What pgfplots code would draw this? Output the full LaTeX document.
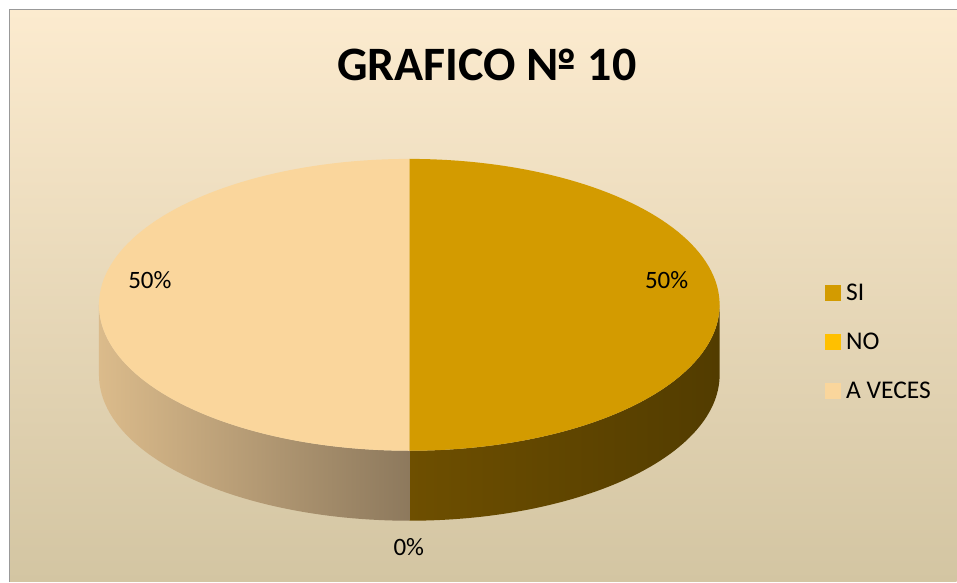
\documentclass[border=0pt]{standalone}
\usepackage{pgfplots}
\pgfplotsset{compat=1.18}
\usepackage{fontspec}
\setmainfont{Carlito}
\definecolor{cSI}{HTML}{D39B00}
\definecolor{cNO}{HTML}{FFC000}
\definecolor{cAV}{HTML}{FAD69C}
\definecolor{wSIa}{HTML}{6E4F00}
\definecolor{wSIb}{HTML}{523C00}
\definecolor{wAVa}{HTML}{DBBB8B}
\definecolor{wAVb}{HTML}{8D795D}
\definecolor{bgTop}{HTML}{FCEBCF}
\definecolor{bgMid}{HTML}{F2EAD6}
\definecolor{bgBot}{HTML}{D3C5A2}
% data (percent)
\def\vSI{50}
\def\vNO{0}
\def\vAV{50}
\def\cx{409.5}
\def\cy{277}
\def\rx{310.5}
\def\ry{146}
\def\dep{70}
\pgfmathsetmacro{\aSIs}{90}
\pgfmathsetmacro{\aSIe}{90-3.6*\vSI}
\pgfmathsetmacro{\aNOe}{\aSIe-3.6*\vNO}
\pgfmathsetmacro{\aAVe}{\aNOe-3.6*\vAV}
% wall: t in [0,1] top arc A->B, [1,2] down edge at B, [2,3] bottom arc B->A
\newcommand{\wall}[4]{%
\addplot[forget plot, draw=none, left color=#3, right color=#4, domain=0:3, samples=181, variable=\t]
  ({\cx+\rx*cos(\t<=1 ? #1+(#2-#1)*\t : (\t<=2 ? #2 : #2-(#2-#1)*(\t-2)))},
   {\cy+\ry*sin(\t<=1 ? #1+(#2-#1)*\t : (\t<=2 ? #2 : #2-(#2-#1)*(\t-2)))
     - (\t<=1 ? 0 : (\t<=2 ? \dep*(\t-1) : \dep))}) -- cycle;}
\begin{document}
\begin{tikzpicture}
\fill[white] (0,0) rectangle (957pt,582pt);
\shade[top color=bgTop, middle color=bgMid, bottom color=bgBot] (10pt,0pt) rectangle (957pt,572pt);
\draw[gray!80, line width=1pt] (10pt,0pt) -- (10pt,572pt) -- (957pt,572pt);
\begin{axis}[
  at={(0pt,0pt)}, anchor=south west,
  width=957pt, height=582pt, scale only axis,
  xmin=0, xmax=957, ymin=0, ymax=582,
  hide axis, clip=false,
  legend style={draw=none, fill=none, at={(axis cs:822,302)}, anchor=north west,
    font=\fontsize{25.5}{29}\selectfont, row sep=27pt, cells={anchor=west}},
  legend cell align=left,
]
% front walls
\wall{-90}{0}{wSIa}{wSIb}
\wall{180}{270}{wAVa}{wAVb}
% top slices
\addplot[forget plot, draw=none, fill=cSI, domain=\aSIe:\aSIs, samples=100]
  ({\cx+\rx*cos(x)},{\cy+\ry*sin(x)}) -- (axis cs:\cx,\cy) -- cycle;
\addplot[forget plot, draw=none, fill=cAV, domain=\aAVe:\aNOe, samples=100]
  ({\cx+\rx*cos(x)},{\cy+\ry*sin(x)}) -- (axis cs:\cx,\cy) -- cycle;
% labels
\node[font=\fontsize{25}{29}\selectfont] at (axis cs:150,302) {50\%};
\node[font=\fontsize{25}{29}\selectfont] at (axis cs:667,302) {50\%};
\node[font=\fontsize{25}{29}\selectfont] at (axis cs:409,35) {0\%};
\node[font=\fontsize{48}{56}\selectfont\bfseries] at (axis cs:487,517) {GRAFICO № 10};
% legend
\addlegendimage{legend image code/.code={\fill[cSI] (0pt,-7.5pt) rectangle (15pt,7.5pt); \path (19pt,0pt);}}
\addlegendimage{legend image code/.code={\fill[cNO] (0pt,-7.5pt) rectangle (15pt,7.5pt); \path (19pt,0pt);}}
\addlegendimage{legend image code/.code={\fill[cAV] (0pt,-7.5pt) rectangle (15pt,7.5pt); \path (19pt,0pt);}}
\legend{SI,NO,A VECES}
\end{axis}
\end{tikzpicture}
\end{document}
